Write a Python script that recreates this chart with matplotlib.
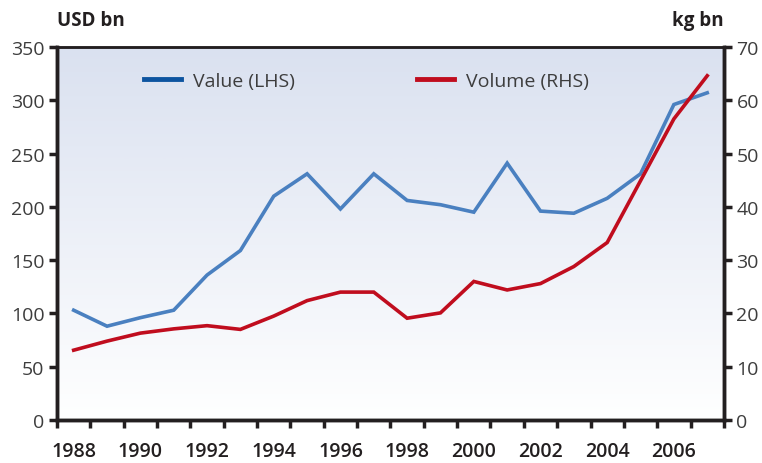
import numpy as np
import matplotlib
matplotlib.use("Agg")
import matplotlib.pyplot as plt
from matplotlib.colors import LinearSegmentedColormap
from matplotlib.lines import Line2D

plt.rcParams['font.family'] = ['Open Sans', 'DejaVu Sans']

years = list(range(1988, 2008))
value_usd = [103, 88, 96, 103, 136, 159, 210, 231, 198, 231,
             206, 202, 195, 241, 196, 194, 208, 231, 296, 307]
volume_kg = [13.1, 14.8, 16.3, 17.1, 17.7, 17.0, 19.5, 22.4, 24.0, 24.0,
             19.1, 20.1, 26.0, 24.4, 25.6, 28.8, 33.3, 44.9, 56.5, 64.6]
year_labels = [str(y) for y in range(1988, 2007, 2)]
left_ticks = list(range(0, 351, 50))
right_ticks = list(range(0, 71, 10))

blue = '#4a80c0'
blue_dark = '#0d54a0'
red = '#c00d1e'
dark = '#231f20'
grey = '#3d3d3d'

fig = plt.figure(figsize=(7.62, 4.64), dpi=100)
ax = fig.add_axes([0.0748, 0.0927, 0.8752, 0.8039])

# background gradient, white at the bottom to pale blue at the top
cmap = LinearSegmentedColormap.from_list('bg', ['#ffffff', '#dae1f0'])
grad = np.linspace(0, 1, 256).reshape(-1, 1)
ax.imshow(grad, cmap=cmap, origin='lower', aspect='auto',
          extent=[1987.5, 2007.5, 0, 350], zorder=0)

ax.plot(years, value_usd, color=blue, lw=2.6, zorder=3, solid_joinstyle='miter')
ax.set_xlim(1987.5, 2007.5)
ax.set_ylim(0, 350)
ax.set_yticks(left_ticks)

ax2 = ax.twinx()
ax2.plot(years, volume_kg, color=red, lw=2.6, zorder=3, solid_joinstyle='miter')
ax2.set_ylim(0, 70)
ax2.set_yticks(right_ticks)
ax2.set_xlim(1987.5, 2007.5)

# year boundaries as ticks, labels centred on even years
ax.set_xticks(np.arange(1987.5, 2008, 1))
ax.set_xticklabels([])
ax.set_xticks(range(1988, 2007, 2), minor=True)
ax.set_xticklabels(year_labels, minor=True)
ax.tick_params(axis='x', which='minor', length=0, pad=15, labelsize=14,
               labelcolor=dark)
for t in ax.get_xticklabels(minor=True):
    t.set_fontweight('semibold')
ax.tick_params(axis='x', which='major', direction='out', length=6, width=2.5,
               color=dark)
ax.tick_params(axis='y', direction='out', length=6, width=2.5, color=dark,
               labelsize=14, labelcolor=grey, pad=3)
ax2.tick_params(axis='y', direction='out', length=6, width=2.5, color=dark,
                labelsize=14, labelcolor=grey, pad=3)

for a in (ax, ax2):
    for side in ('left', 'right', 'bottom'):
        a.spines[side].set_linewidth(2.5)
        a.spines[side].set_color(dark)
    a.spines['top'].set_linewidth(1.8)
    a.spines['top'].set_color(dark)

fig.text(0.0748, 0.955, 'USD bn', fontsize=13.5, fontweight='bold', color=dark,
         ha='left', va='center')
fig.text(0.949, 0.955, 'kg bn', fontsize=13.5, fontweight='bold', color=dark,
         ha='right', va='center')

handles = [Line2D([], [], color=blue_dark, lw=3.5),
           Line2D([], [], color=red, lw=3.5)]
ax.legend(handles, ['Value (LHS)', 'Volume (RHS)'], ncol=2, frameon=False,
          loc='center left', bbox_to_anchor=(0.130, 0.909), fontsize=14,
          handlelength=1.9, handletextpad=0.62, columnspacing=6.3,
          labelcolor=grey, borderaxespad=0, borderpad=0)

fig.savefig('out.png', dpi=100)
